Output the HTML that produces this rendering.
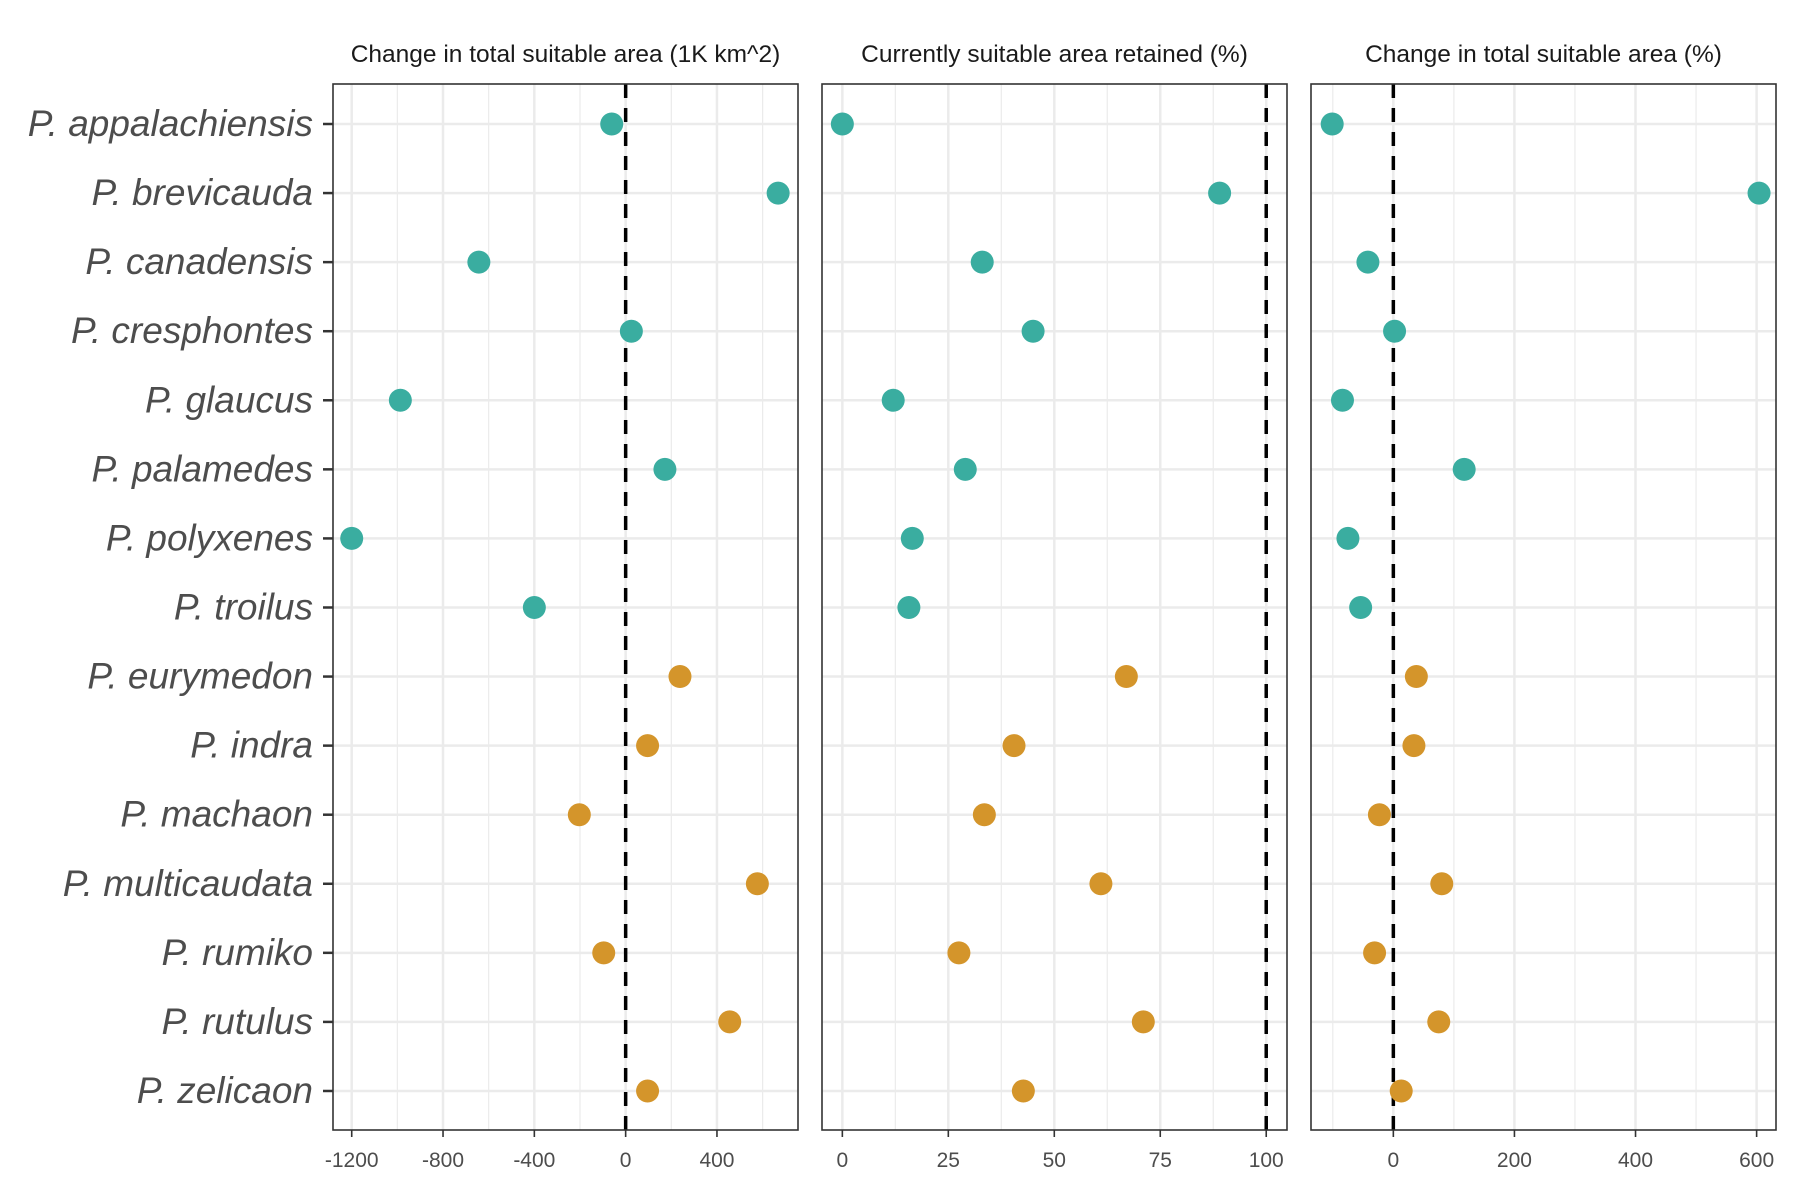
<!DOCTYPE html>
<html><head><meta charset="utf-8"><style>
html,body{margin:0;padding:0;background:#fff;}
svg{display:block;font-family:"Liberation Sans",sans-serif;}
</style></head><body>
<svg id="chart" width="1800" height="1200"></svg>
<script>
const species = ["P. appalachiensis","P. brevicauda","P. canadensis","P. cresphontes","P. glaucus","P. palamedes","P. polyxenes","P. troilus","P. eurymedon","P. indra","P. machaon","P. multicaudata","P. rumiko","P. rutulus","P. zelicaon"];
const groups = ["teal","teal","teal","teal","teal","teal","teal","teal","orange","orange","orange","orange","orange","orange","orange"];
const changeArea = [-61,668,-643,25,-987,172,-1200,-400,238,96,-203,577,-96,456,96];
const retained = [0,89,33,45,12,29,16.5,15.7,67,40.5,33.5,61,27.5,71,42.7];
const changePct = [-101,604,-42,2,-84,117,-75,-54,38,34,-23,80,-31,75,13];
const ticks1 = [-1200,-800,-400,0,400];
const minor1 = [-1000,-600,-200,200,600];
const ticks2 = [0,25,50,75,100];
const minor2 = [12.5,37.5,62.5,87.5];
const ticks3 = [0,200,400,600];
const minor3 = [-100,100,300,500];
const titles = ["Change in total suitable area (1K km^2)","Currently suitable area retained (%)","Change in total suitable area (%)"];

const NS="http://www.w3.org/2000/svg";
const svg=document.getElementById('chart');
const colors={teal:"#3aada0",orange:"#d4952b"};
const plotTop=84,plotBottom=1130,y0=124,dy=69.07;
const yPos=i=>y0+i*dy;
function mk(t,a,p){const e=document.createElementNS(NS,t);for(const k in a)e.setAttribute(k,a[k]);(p||svg).appendChild(e);return e;}
const panels=[
 {x0:333,x1:798,dmin:-1282,dmax:755,vals:changeArea,ticks:ticks1,minor:minor1,ref:0,name:"area-change"},
 {x0:822,x1:1287,dmin:-4.8,dmax:104.9,vals:retained,ticks:ticks2,minor:minor2,ref:100,name:"area-retained"},
 {x0:1311,x1:1776,dmin:-136,dmax:632,vals:changePct,ticks:ticks3,minor:minor3,ref:0,name:"area-change-pct"}
];
panels.forEach((p,pi)=>{
 const sx=v=>p.x0+(v-p.dmin)/(p.dmax-p.dmin)*(p.x1-p.x0);
 const g=mk('g',{});
 
 
 p.minor.forEach(v=>{const l=mk('line',{x1:sx(v),x2:sx(v),y1:plotTop,y2:plotBottom,stroke:"#ebebeb","stroke-width":1.2},g);
  });
 p.ticks.forEach(v=>{const l=mk('line',{x1:sx(v),x2:sx(v),y1:plotTop,y2:plotBottom,stroke:"#ebebeb","stroke-width":2.5},g);
  });
 species.forEach((s,i)=>{const l=mk('line',{x1:p.x0,x2:p.x1,y1:yPos(i),y2:yPos(i),stroke:"#ebebeb","stroke-width":2.5},g);
  });
 const r=mk('line',{x1:sx(p.ref),x2:sx(p.ref),y1:plotTop,y2:plotBottom,stroke:"#000","stroke-width":3.5,"stroke-dasharray":"14,10"},g);
 
 p.vals.forEach((v,i)=>{const c=mk('circle',{cx:sx(v),cy:yPos(i),r:11.5,fill:colors[groups[i]]},g);
  
  });
 const b=mk('rect',{x:p.x0,y:plotTop,width:p.x1-p.x0,height:plotBottom-plotTop,fill:"none",stroke:"#333","stroke-width":1.6},g);
 
 p.ticks.forEach(v=>{mk('line',{x1:sx(v),x2:sx(v),y1:plotBottom,y2:plotBottom+7,stroke:"#333","stroke-width":1.6},g);
  const t=mk('text',{x:sx(v),y:plotBottom+37,"text-anchor":"middle","font-size":21,fill:"#4d4d4d"},g);
  t.textContent=v;});
 const tt=mk('text',{x:(p.x0+p.x1)/2,y:62,"text-anchor":"middle","font-size":24.5,fill:"#1a1a1a"},g);
 tt.textContent=titles[pi];
});
species.forEach((s,i)=>{
 mk('line',{x1:323,x2:333,y1:yPos(i),y2:yPos(i),stroke:"#333","stroke-width":2.5});
 const t=mk('text',{x:313,y:yPos(i)+12,"text-anchor":"end","font-size":37,"font-style":"italic",fill:"#4d4d4d"});
 t.textContent=s;
 
 
});
</script>
</body></html>
